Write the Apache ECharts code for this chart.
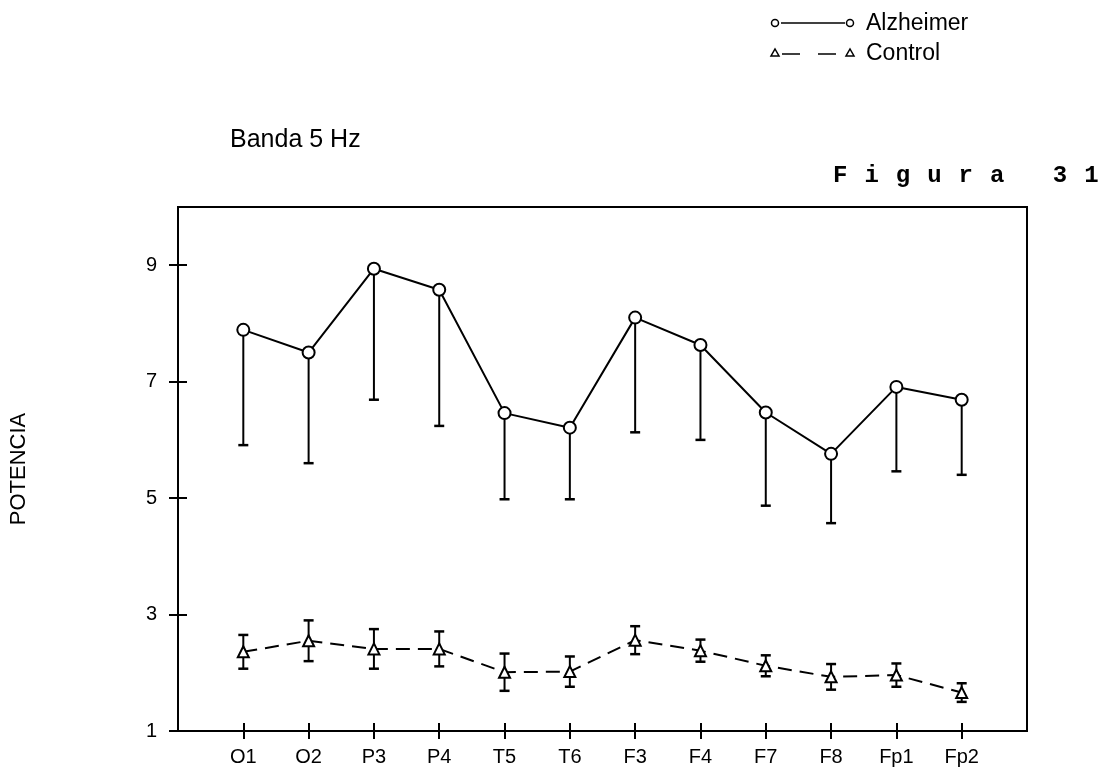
<!DOCTYPE html>
<html>
<head>
<meta charset="utf-8">
<script src="https://cdn.jsdelivr.net/npm/echarts@6/dist/echarts.min.js"></script>
<style>
html,body{margin:0;padding:0;background:#fff;}
#c{width:1110px;height:774px;}
</style>
</head>
<body>
<div id="c"></div>
<script>
// ---- data ----
const categories = ['O1','O2','P3','P4','T5','T6','F3','F4','F7','F8','Fp1','Fp2'];
const alzheimerMean = [7.89, 7.50, 8.94, 8.58, 6.46, 6.21, 8.10, 7.63, 6.47, 5.76, 6.91, 6.69];
const alzheimerSD   = [1.98, 1.90, 2.25, 2.34, 1.48, 1.23, 1.97, 1.63, 1.60, 1.19, 1.45, 1.29];
const controlMean   = [2.36, 2.55, 2.41, 2.41, 2.01, 2.02, 2.56, 2.38, 2.12, 1.93, 1.96, 1.66];
const controlSD     = [0.29, 0.35, 0.34, 0.30, 0.32, 0.26, 0.24, 0.19, 0.18, 0.22, 0.20, 0.16];
const yTickValues   = [1, 3, 5, 7, 9];
const yMin = 1, yMax = 10;

// "Figura 31" stays one text; it is drawn on its own layer with the wide typewriter spacing
(function(){
  const proto = CanvasRenderingContext2D.prototype;
  const orig = proto.fillText;
  proto.fillText = function(t){
    if (t === 'Figura 31' && 'letterSpacing' in this) {
      const prev = this.letterSpacing;
      const f = this.font;
      this.letterSpacing = '17px';
      this.font = '10px sans-serif'; this.font = f;
      const r = orig.apply(this, arguments);
      this.letterSpacing = prev;
      this.font = '10px sans-serif'; this.font = f;
      return r;
    }
    return orig.apply(this, arguments);
  };
})();

const xPositions = categories.map((c, i) => i + 1);
const toPoints = arr => arr.map((v, i) => [i + 1, v]);
const toErr = (m, sd) => m.map((v, i) => [i + 1, v, sd[i]]);

function errorBars(lowerOnly) {
  return function(params, api) {
    const x = api.value(0), m = api.value(1), sd = api.value(2);
    const top = api.coord([x, lowerOnly ? m : m + sd]);
    const bot = api.coord([x, m - sd]);
    const cw = 5;
    const children = [
      {type:'line', shape:{x1:top[0], y1:top[1], x2:bot[0], y2:bot[1]}, style:{stroke:'#000', lineWidth:2}},
      {type:'line', shape:{x1:bot[0]-cw, y1:bot[1], x2:bot[0]+cw, y2:bot[1]}, style:{stroke:'#000', lineWidth:2.5}}
    ];
    if (!lowerOnly) {
      children.push({type:'line', shape:{x1:top[0]-cw, y1:top[1], x2:top[0]+cw, y2:top[1]}, style:{stroke:'#000', lineWidth:2.5}});
    }
    return {type:'group', children};
  };
}

const tickStyle = {color:'#000', width:2};
const chart = echarts.init(document.getElementById('c'));
chart.setOption({
  animation: false,
  backgroundColor: '#fff',
  grid: {left:173, right:83, top:207, bottom:43, show:true, borderColor:'#000', borderWidth:2},
  xAxis: [
    {type:'value', min:0, max:categories.length + 1, interval:1,
     axisLine:{onZero:false, lineStyle:{color:'#000', width:2}},
     axisTick:{customValues:xPositions, length:8, lineStyle:tickStyle},
     axisLabel:{customValues:xPositions, formatter:v => categories[Math.round(v) - 1] || '',
                margin:16, color:'#000', fontSize:20, fontFamily:'Liberation Sans'},
     splitLine:{show:false}},
    {type:'value', min:0, max:categories.length + 1, interval:1, position:'bottom',
     axisLine:{show:false},
     axisTick:{inside:true, customValues:xPositions, length:8, lineStyle:tickStyle},
     axisLabel:{show:false}, splitLine:{show:false}}
  ],
  yAxis: [
    {type:'value', min:yMin, max:yMax, interval:1,
     axisLine:{onZero:false, lineStyle:{color:'#000', width:2}},
     axisTick:{customValues:yTickValues, length:9, lineStyle:tickStyle},
     axisLabel:{customValues:yTickValues, margin:21, color:'#000', fontSize:20, fontFamily:'Liberation Sans'},
     splitLine:{show:false},
     name:'POTENCIA', nameLocation:'middle', nameGap:148, nameRotate:90,
     nameTextStyle:{color:'#000', fontSize:22, fontFamily:'Liberation Sans'}},
    {type:'value', min:yMin, max:yMax, interval:1, position:'left',
     axisLine:{show:false},
     axisTick:{inside:true, customValues:yTickValues, length:9, lineStyle:tickStyle},
     axisLabel:{show:false}, splitLine:{show:false}}
  ],
  graphic: [
    {type:'text', left:230, top:128, style:{text:'Banda 5 Hz', font:'25px "Liberation Sans"', fill:'#000'}},
    {type:'text', x:833, y:176, zlevel:5, style:{text:'Figura 31', font:'bold 24px "Liberation Mono"', fill:'#000', verticalAlign:'middle'}},
    // legend
    {type:'circle', shape:{cx:775, cy:23, r:3.5}, style:{fill:'#fff', stroke:'#000', lineWidth:1.5}},
    {type:'line', shape:{x1:781, y1:23, x2:845, y2:23}, style:{stroke:'#000', lineWidth:1.5}},
    {type:'circle', shape:{cx:850, cy:23, r:3.5}, style:{fill:'#fff', stroke:'#000', lineWidth:1.5}},
    {type:'text', x:866, y:24, style:{text:'Alzheimer', font:'23px "Liberation Sans"', fill:'#000', verticalAlign:'middle'}},
    {type:'polygon', shape:{points:[[771,56],[779,56],[775,49]]}, style:{fill:'#fff', stroke:'#000', lineWidth:1.5}},
    {type:'line', shape:{x1:782, y1:54, x2:838, y2:54}, style:{stroke:'#000', lineWidth:1.5, lineDash:[18,18]}},
    {type:'polygon', shape:{points:[[846,56],[854,56],[850,49]]}, style:{fill:'#fff', stroke:'#000', lineWidth:1.5}},
    {type:'text', x:866, y:54, style:{text:'Control', font:'23px "Liberation Sans"', fill:'#000', verticalAlign:'middle'}}
  ],
  series: [
    {type:'custom', name:'Alzheimer SD', z:1, data:toErr(alzheimerMean, alzheimerSD), renderItem:errorBars(true)},
    {type:'custom', name:'Control SD', z:1, data:toErr(controlMean, controlSD), renderItem:errorBars(false)},
    {type:'line', name:'Alzheimer', z:3, data:toPoints(alzheimerMean), symbol:'circle', symbolSize:12,
     lineStyle:{color:'#000', width:2}, itemStyle:{color:'#fff', borderColor:'#000', borderWidth:2}},
    {type:'line', name:'Control', z:3, data:toPoints(controlMean), symbol:'triangle', symbolSize:11,
     lineStyle:{color:'#000', width:2, type:[14,8]}, itemStyle:{color:'#fff', borderColor:'#000', borderWidth:2}}
  ]
});
</script>
</body>
</html>
